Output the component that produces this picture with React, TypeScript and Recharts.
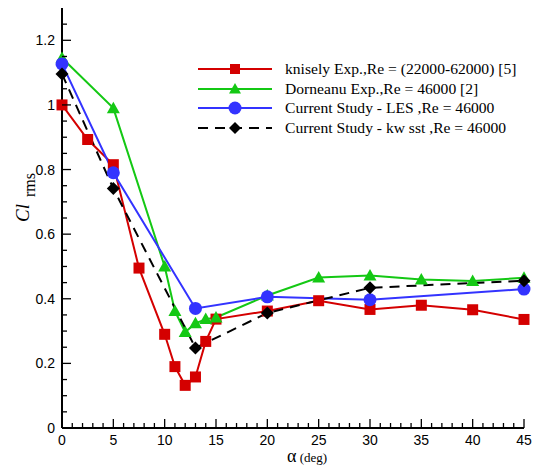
import React from 'react';
import { LineChart, Line, XAxis, YAxis } from 'recharts';

const kniselyAlpha = [0, 2.5, 5, 7.5, 10, 11, 12, 13, 14, 15, 20, 25, 30, 35, 40, 45];
const kniselyCl = [1.0, 0.893, 0.815, 0.495, 0.29, 0.19, 0.132, 0.158, 0.268, 0.337, 0.362, 0.394, 0.367, 0.38, 0.366, 0.336];
const dorneanuAlpha = [0, 5, 10, 11, 12, 13, 14, 15, 20, 25, 30, 35, 40, 45];
const dorneanuCl = [1.145, 0.99, 0.5, 0.362, 0.297, 0.324, 0.337, 0.342, 0.41, 0.466, 0.472, 0.46, 0.455, 0.465];
const lesAlpha = [0, 5, 13, 20, 30, 45];
const lesCl = [1.127, 0.79, 0.37, 0.406, 0.397, 0.43];
const kwAlpha = [0, 5, 13, 20, 30, 45];
const kwCl = [1.096, 0.741, 0.248, 0.356, 0.434, 0.456];

const seriesNames = [
  'knisely Exp.,Re = (22000-62000) [5]',
  'Dorneanu Exp.,Re = 46000 [2]',
  'Current Study - LES ,Re = 46000',
  'Current Study - kw sst ,Re = 46000',
];

const xTicks = [0, 1, 2, 3, 4, 5, 6, 7, 8, 9, 10, 11, 12, 13, 14, 15, 16, 17, 18, 19, 20, 21, 22, 23, 24, 25, 26, 27, 28, 29, 30, 31, 32, 33, 34, 35, 36, 37, 38, 39, 40, 41, 42, 43, 44, 45];
const xLabels = [0, 5, 10, 15, 20, 25, 30, 35, 40, 45];
const yTicks = [0, 0.05, 0.1, 0.15, 0.2, 0.25, 0.3, 0.35, 0.4, 0.45, 0.5, 0.55, 0.6, 0.65, 0.7, 0.75, 0.8, 0.85, 0.9, 0.95, 1, 1.05, 1.1, 1.15, 1.2, 1.25];
const yLabels = ['0', '0.2', '0.4', '0.6', '0.8', '1', '1.2'];

const toData = (xs: number[], ys: number[]) => xs.map((a, i) => ({ a, v: ys[i] }));
const kniselyData = toData(kniselyAlpha, kniselyCl);
const dorneanuData = toData(dorneanuAlpha, dorneanuCl);
const lesData = toData(lesAlpha, lesCl);
const kwData = toData(kwAlpha, kwCl);

const RED = '#d40000';
const GREEN = '#14c814';
const BLUE = '#3333ff';
const BLACK = '#000000';

const Square = (p: any) => <rect key={p.key ?? `${p.cx}-${p.cy}`} x={p.cx - 5.5} y={p.cy - 5.5} width={11} height={11} fill={RED} />;
const Tri = (p: any) => (
  <polygon key={p.key ?? `${p.cx}-${p.cy}`} points={`${p.cx},${p.cy - 6.5} ${p.cx - 6.5},${p.cy + 5} ${p.cx + 6.5},${p.cy + 5}`} fill={GREEN} />
);
const Circ = (p: any) => <circle key={p.key ?? `${p.cx}-${p.cy}`} cx={p.cx} cy={p.cy} r={6.5} fill={BLUE} />;
const Diam = (p: any) => (
  <polygon key={p.key ?? `${p.cx}-${p.cy}`} points={`${p.cx},${p.cy - 6.5} ${p.cx + 6.5},${p.cy} ${p.cx},${p.cy + 6.5} ${p.cx - 6.5},${p.cy}`} fill={BLACK} />
);

const near = (v: number, list: number[]) => list.some((m) => Math.abs(m - v) < 1e-6);

const YTick = (p: any) => {
  const v = p.payload.value;
  const major = near(v, yLabels.map(Number));
  const label = yLabels.find((l) => Math.abs(Number(l) - v) < 1e-6);
  return (
    <g>
      <line x1={p.x} x2={p.x + (major ? 9 : 5)} y1={p.y} y2={p.y} stroke="#000" strokeWidth={1.3} />
      {label !== undefined && (
        <text x={p.x - 7} y={p.y + 5} textAnchor="end" fontSize={14} fontFamily="Liberation Sans, Arial, sans-serif" fill="#000">
          {label}
        </text>
      )}
    </g>
  );
};

const XTick = (p: any) => {
  const v = p.payload.value;
  const major = near(v, xLabels);
  return (
    <g>
      <line x1={p.x} x2={p.x} y1={p.y} y2={p.y - (major ? 9 : 5)} stroke="#000" strokeWidth={1.3} />
      {major && (
        <text x={p.x} y={p.y + 17} textAnchor="middle" fontSize={14} fontFamily="Liberation Sans, Arial, sans-serif" fill="#000">
          {v}
        </text>
      )}
    </g>
  );
};

const legendStyles = [
  { color: RED, dash: undefined as string | undefined, marker: 'square' },
  { color: GREEN, dash: undefined, marker: 'tri' },
  { color: BLUE, dash: undefined, marker: 'circle' },
  { color: BLACK, dash: '10 7', marker: 'diamond' },
];

const LegendMarker = ({ kind, color }: { kind: string; color: string }) => {
  const cx = 37, cy = 10;
  if (kind === 'square') return <rect x={cx - 5} y={cy - 5} width={10} height={10} fill={color} />;
  if (kind === 'tri') return <polygon points={`${cx},${cy - 6} ${cx - 6},${cy + 4.5} ${cx + 6},${cy + 4.5}`} fill={color} />;
  if (kind === 'circle') return <circle cx={cx} cy={cy} r={6.5} fill={color} />;
  return <polygon points={`${cx},${cy - 6} ${cx + 6},${cy} ${cx},${cy + 6} ${cx - 6},${cy}`} fill={color} />;
};

export default function App() {
  return (
    <div style={{ position: 'absolute', left: 0, top: 0, width: 538, height: 465, background: '#fff' }}>
      <LineChart width={538} height={465} margin={{ top: 8, right: 14, bottom: 0, left: 0 }}>
        <XAxis
          type="number"
          dataKey="a"
          domain={[0, 45]}
          ticks={xTicks}
          interval={0}
          tickLine={false}
          tickSize={0}
          tickMargin={0}
          height={37}
          axisLine={{ stroke: '#000', strokeWidth: 2 }}
          tick={<XTick />}
          allowDecimals
        />
        <YAxis
          type="number"
          dataKey="v"
          domain={[0, 1.3]}
          ticks={yTicks}
          interval={0}
          tickLine={false}
          tickSize={0}
          tickMargin={0}
          width={62}
          axisLine={{ stroke: '#000', strokeWidth: 2 }}
          tick={<YTick />}
          allowDataOverflow
        />
        <Line data={kniselyData} dataKey="v" stroke={RED} strokeWidth={2} dot={Square} activeDot={false} isAnimationActive={false} />
        <Line data={dorneanuData} dataKey="v" stroke={GREEN} strokeWidth={2} dot={Tri} activeDot={false} isAnimationActive={false} />
        <Line data={lesData} dataKey="v" stroke={BLUE} strokeWidth={2} dot={Circ} activeDot={false} isAnimationActive={false} />
        <Line data={kwData} dataKey="v" stroke={BLACK} strokeWidth={2} strokeDasharray="10 7" dot={Diam} activeDot={false} isAnimationActive={false} />
      </LineChart>

      {/* Legend */}
      <div style={{ position: 'absolute', left: 198, top: 59 }}>
        {seriesNames.map((name, i) => (
          <div key={name} style={{ display: 'flex', alignItems: 'center', height: 19.7 }}>
            <svg width={76} height={20} style={{ display: 'block' }}>
              <line x1={0} x2={74} y1={10} y2={10} stroke={legendStyles[i].color} strokeWidth={2} strokeDasharray={legendStyles[i].dash} />
              <LegendMarker kind={legendStyles[i].marker} color={legendStyles[i].color} />
            </svg>
            <span style={{ marginLeft: 11, fontFamily: 'Liberation Serif, Times New Roman, serif', fontSize: 15.6, whiteSpace: 'nowrap', lineHeight: '20px', color: '#000' }}>
              {name}
            </span>
          </div>
        ))}
      </div>

      {/* X axis label */}
      <div style={{ position: 'absolute', left: 287, top: 447, fontFamily: 'Liberation Serif, Times New Roman, serif', whiteSpace: 'nowrap', color: '#000', lineHeight: '18px' }}>
        <span style={{ fontSize: 18 }}>α</span>
        <span style={{ fontSize: 13 }}> (deg)</span>
      </div>

      {/* Y axis label */}
      <svg width={60} height={465} style={{ position: 'absolute', left: 0, top: 0 }}>
        <text transform="translate(29,222) rotate(-90)" fontFamily="Liberation Serif, Times New Roman, serif" fontSize={19} fontStyle="italic" fill="#000">
          Cl
        </text>
        <text transform="translate(35,197) rotate(-90)" fontFamily="Liberation Serif, Times New Roman, serif" fontSize={16} fill="#000">
          rms
        </text>
      </svg>
    </div>
  );
}
